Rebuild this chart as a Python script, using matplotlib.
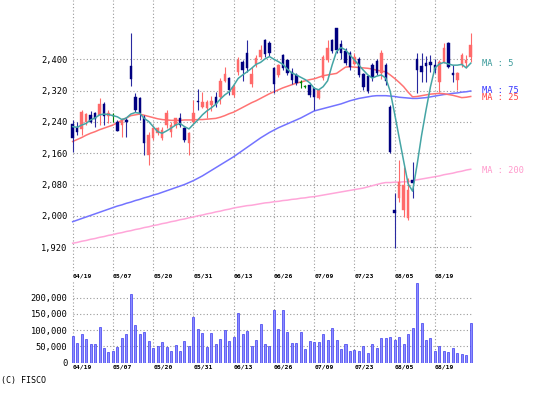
import numpy as np
import matplotlib
matplotlib.use("Agg")
import matplotlib.pyplot as plt

# daily candles (90 sessions)
opens = [2234, 2228, 2222, 2240, 2258, 2264, 2258, 2287, 2256, 2257,
         2239, 2232, 2245, 2384, 2304, 2300, 2253, 2155, 2198, 2211,
         2198, 2232, 2215, 2232, 2249, 2224, 2185, 2241, 2294, 2279,
         2275, 2283, 2304, 2304, 2345, 2351, 2309, 2368, 2392, 2415,
         2336, 2387, 2407, 2449, 2441, 2377, 2360, 2411, 2398, 2368,
         2360, 2340, 2331, 2334, 2326, 2300, 2351, 2398, 2449, 2479,
         2440, 2420, 2415, 2388, 2400, 2362, 2358, 2385, 2396, 2365,
         2385, 2279, 2015, 2045, 2015, 1994, 2092, 2400, 2383, 2390,
         2394, 2385, 2343, 2394, 2441, 2364, 2347, 2385, 2390, 2407]
highs = [2245, 2241, 2270, 2264, 2268, 2266, 2300, 2290, 2270, 2264,
         2245, 2251, 2249, 2466, 2313, 2304, 2258, 2215, 2232, 2228,
         2228, 2270, 2241, 2251, 2264, 2228, 2215, 2296, 2324, 2317,
         2296, 2307, 2317, 2351, 2381, 2356, 2338, 2405, 2398, 2449,
         2381, 2410, 2437, 2452, 2448, 2381, 2388, 2413, 2402, 2377,
         2364, 2347, 2334, 2338, 2330, 2323, 2411, 2449, 2452, 2481,
         2450, 2428, 2420, 2415, 2405, 2366, 2360, 2390, 2400, 2424,
         2390, 2283, 2058, 2143, 2126, 2096, 2138, 2415, 2417, 2408,
         2411, 2402, 2398, 2441, 2445, 2385, 2368, 2415, 2411, 2466]
lows = [2164, 2207, 2207, 2232, 2236, 2228, 2232, 2232, 2236, 2241,
        2217, 2202, 2202, 2332, 2266, 2245, 2155, 2130, 2194, 2207,
        2194, 2224, 2202, 2224, 2228, 2189, 2155, 2232, 2270, 2276,
        2249, 2268, 2279, 2287, 2343, 2309, 2304, 2360, 2345, 2368,
        2330, 2381, 2402, 2407, 2408, 2313, 2356, 2373, 2360, 2338,
        2334, 2326, 2326, 2304, 2270, 2298, 2347, 2394, 2415, 2415,
        2400, 2385, 2373, 2385, 2355, 2321, 2313, 2345, 2360, 2350,
        2335, 2160, 1917, 2036, 1998, 1989, 2045, 2315, 2343, 2343,
        2368, 2364, 2317, 2390, 2377, 2343, 2321, 2381, 2377, 2394]
closes = [2198, 2213, 2265, 2259, 2241, 2247, 2286, 2256, 2264, 2257,
          2218, 2246, 2239, 2350, 2270, 2264, 2185, 2206, 2224, 2224,
          2219, 2264, 2232, 2249, 2232, 2194, 2211, 2262, 2290, 2292,
          2290, 2293, 2287, 2344, 2362, 2321, 2330, 2398, 2372, 2378,
          2362, 2404, 2424, 2413, 2415, 2338, 2385, 2377, 2364, 2347,
          2339, 2340, 2331, 2309, 2304, 2321, 2407, 2428, 2420, 2425,
          2415, 2390, 2380, 2405, 2360, 2330, 2320, 2355, 2364, 2415,
          2345, 2164, 2008, 2087, 2079, 2066, 2083, 2373, 2368, 2383,
          2385, 2373, 2394, 2428, 2381, 2360, 2364, 2411, 2398, 2436]

# moving averages as drawn on the chart
ma5 = [2228, 2226, 2232, 2236, 2245, 2250, 2258, 2260, 2259, 2256,
       2253, 2246, 2250, 2260, 2264, 2262, 2249, 2241, 2228, 2215,
       2211, 2217, 2224, 2232, 2236, 2228, 2222, 2234, 2245, 2258,
       2268, 2276, 2285, 2298, 2309, 2317, 2333, 2351, 2360, 2368,
       2377, 2387, 2392, 2401, 2407, 2400, 2394, 2387, 2375, 2365,
       2360, 2354, 2348, 2340, 2326, 2322, 2330, 2345, 2385, 2420,
       2430, 2424, 2411, 2398, 2385, 2372, 2360, 2352, 2357, 2360,
       2352, 2318, 2260, 2200, 2140, 2082, 2063, 2130, 2205, 2270,
       2330, 2378, 2388, 2392, 2388, 2385, 2385, 2387, 2378, 2390]
ma25 = [2190, 2195, 2200, 2206, 2211, 2215, 2220, 2224, 2228, 2232,
        2238, 2244, 2250, 2256, 2258, 2260, 2257, 2254, 2251, 2248,
        2246, 2245, 2244, 2244, 2244, 2245, 2245, 2245, 2246, 2246,
        2247, 2248, 2249, 2252, 2256, 2261, 2265, 2271, 2277, 2283,
        2289, 2294, 2300, 2306, 2312, 2317, 2322, 2327, 2331, 2335,
        2339, 2342, 2345, 2348, 2350, 2354, 2358, 2360, 2362, 2364,
        2372, 2380, 2381, 2380, 2379, 2378, 2377, 2375, 2372, 2370,
        2368, 2360, 2351, 2341, 2330, 2316, 2304, 2305, 2307, 2309,
        2311, 2312, 2313, 2312, 2310, 2308, 2305, 2302, 2303, 2305]
ma75 = [1985, 1989, 1993, 1997, 2001, 2005, 2009, 2013, 2017, 2021,
        2025, 2028, 2032, 2035, 2039, 2042, 2046, 2049, 2053, 2056,
        2060, 2064, 2068, 2072, 2076, 2080, 2085, 2090, 2096, 2102,
        2109, 2116, 2123, 2130, 2137, 2144, 2151, 2159, 2167, 2175,
        2183, 2191, 2199, 2206, 2213, 2219, 2225, 2230, 2235, 2240,
        2245, 2250, 2256, 2262, 2268, 2271, 2274, 2277, 2280, 2283,
        2286, 2290, 2294, 2297, 2300, 2302, 2304, 2306, 2307, 2307,
        2307, 2306, 2305, 2303, 2302, 2301, 2300, 2300, 2301, 2302,
        2304, 2306, 2308, 2310, 2311, 2313, 2314, 2316, 2317, 2319]
ma200 = [1930, 1932, 1935, 1937, 1940, 1942, 1945, 1947, 1950, 1952,
         1955, 1957, 1960, 1962, 1965, 1967, 1970, 1972, 1975, 1977,
         1980, 1982, 1985, 1987, 1990, 1992, 1995, 1997, 2000, 2002,
         2005, 2007, 2010, 2012, 2015, 2017, 2020, 2022, 2024, 2026,
         2027, 2029, 2031, 2033, 2034, 2036, 2037, 2039, 2040, 2042,
         2043, 2045, 2046, 2048, 2049, 2051, 2053, 2055, 2057, 2059,
         2061, 2063, 2065, 2067, 2069, 2071, 2074, 2077, 2080, 2083,
         2085, 2085, 2086, 2086, 2087, 2087, 2090, 2092, 2094, 2096,
         2098, 2100, 2102, 2105, 2107, 2109, 2112, 2114, 2117, 2119]

# volume in thousands of shares
volume_k = [82, 60, 87, 72, 56, 58, 110, 46, 32, 36,
            47, 75, 87, 210, 116, 87, 95, 67, 46, 51,
            65, 49, 37, 53, 35, 68, 52, 139, 103, 90,
            49, 92, 56, 72, 100, 66, 80, 152, 87, 98,
            51, 69, 118, 57, 51, 162, 103, 162, 93, 60,
            60, 93, 41, 66, 65, 63, 87, 70, 106, 69,
            41, 56, 35, 39, 37, 51, 29, 56, 44, 75,
            75, 80, 70, 80, 57, 87, 106, 244, 121, 70,
            75, 36, 51, 37, 34, 44, 31, 26, 24, 121]

date_labels = ["04/19", "05/07", "05/20", "05/31", "06/13",
               "06/26", "07/09", "07/23", "08/05", "08/19"]
price_ticks = [1920, 2000, 2080, 2160, 2240, 2320, 2400]
vol_ticks = [0, 50000, 100000, 150000, 200000]

UP = "#ff6a6a"
DOWN = "#000080"
EVEN = "#008000"
GRID = "#9a9a9a"
MONO = "DejaVu Sans Mono"

W, H = 548, 395
fig = plt.figure(figsize=(W / 100, H / 100), dpi=100)

def px_axes(left, top, right, bottom):
    return fig.add_axes([left / W, 1 - bottom / H, (right - left) / W, (bottom - top) / H])

ax = px_axes(70, 0, 475.2, 271)
axv = px_axes(70, 281, 475.2, 362.7)

n = len(closes)
x = np.arange(n)
o = np.array(opens)
c = np.array(closes)
hi = np.array(highs)
lo = np.array(lows)
label_pos = np.arange(0, n, 9)

for a in (ax, axv):
    a.set_xlim(-0.6, 90)
    for s in a.spines.values():
        s.set_visible(False)
    a.tick_params(length=0)
    a.set_facecolor("none")

# --- price panel
ax.set_ylim(1859, 2551.5)
ax.hlines(price_ticks, 0, 89.3, colors=GRID, linestyles=(0, (1, 2)), linewidth=0.8, zorder=0)
ax.vlines(label_pos, 1859, 2551.5, colors=GRID, linestyles=(0, (1, 2)), linewidth=0.8, zorder=0)

ax.plot(x, ma200, color="#ffa6d9", lw=1.1, zorder=2)
ax.plot(x, ma75, color="#7373ff", lw=1.1, zorder=2)
ax.plot(x, ma25, color="#ff7373", lw=1.1, zorder=2)

colors = np.where(c > o, UP, np.where(c < o, DOWN, EVEN))
wick_colors = np.where(c > o, UP, np.where(c < o, "#2a2aa0", EVEN))
ax.vlines(x, lo, hi, colors=wick_colors, lw=0.8, zorder=3)
body = np.where(np.abs(c - o) < 3, 3, c - o)
ax.bar(x, body, bottom=np.where(np.abs(c - o) < 3, o - 1.5, o), width=0.55,
       color=colors, edgecolor=colors, linewidth=0.3, zorder=4)

ax.plot(x, ma5, color="#45a5a5", lw=1.1, zorder=5)

ax.set_yticks(price_ticks)
ax.set_yticklabels([f"{v:,}" for v in price_ticks], fontsize=6.3, family=MONO)
ax.tick_params(axis="y", pad=2)
ax.set_xticks(label_pos)
ax.set_xticklabels(date_labels, fontsize=4.6, family=MONO, fontweight="bold", ha="left")
ax.tick_params(axis="x", pad=1.5)

ma_labels = [("MA : 5", ma5, "#3a9a9a", 0), ("MA : 75", ma75, "#3333ff", 0),
             ("MA : 25", ma25, "#ff4040", -3), ("MA : 200", ma200, "#ff99cc", -3)]
for txt, series, col, dy in ma_labels:
    ax.text(91.5, series[-1] + dy, txt, color=col, fontsize=6.2, family=MONO,
            va="center", ha="left", clip_on=False)

# --- volume panel
vol = np.array(volume_k) * 1000
axv.set_ylim(0, 251000)
axv.hlines(vol_ticks, 0, 89.3, colors=GRID, linestyles=(0, (1, 2)), linewidth=0.8, zorder=0)
axv.vlines(label_pos, 0, 251000, colors=GRID, linestyles=(0, (1, 2)), linewidth=0.8, zorder=0)
axv.bar(x, vol, width=0.45, color="#8c8cff", edgecolor="#3c3cf0", linewidth=0.5, zorder=2)
axv.set_yticks(vol_ticks)
axv.set_yticklabels([f"{v:,}" for v in vol_ticks], fontsize=6.3, family=MONO)
axv.tick_params(axis="y", pad=2)
axv.set_xticks(label_pos)
axv.set_xticklabels(date_labels, fontsize=4.6, family=MONO, fontweight="bold", ha="left")
axv.tick_params(axis="x", pad=1.5)

fig.text(1 / W, 1 - 381 / H, "(C) FISCO", fontsize=6, family=MONO, va="center", ha="left")

fig.savefig("out.png", dpi=100)
